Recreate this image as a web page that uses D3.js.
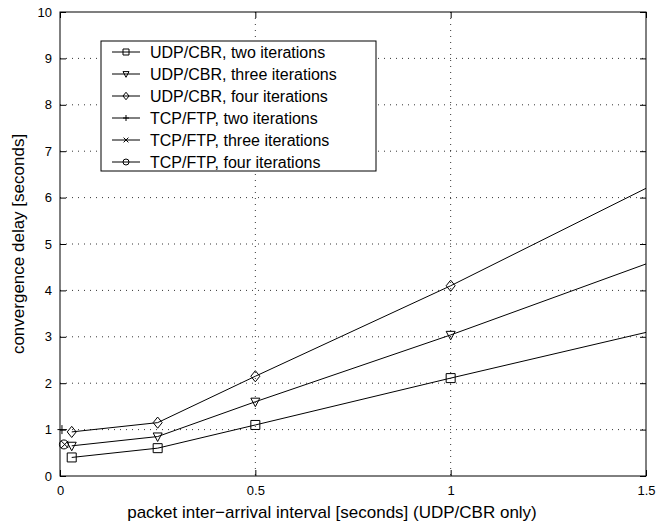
<!DOCTYPE html>
<html><head><meta charset="utf-8">
<script src="https://cdn.jsdelivr.net/npm/d3@7"></script>
<style>body{margin:0;background:#fff}svg{display:block;font-family:"Liberation Sans",Arial,sans-serif}</style>
</head><body><svg id="c" width="667" height="524"></svg>
<script>
const xTicks = [0, 0.5, 1, 1.5];
const yTicks = [0,1,2,3,4,5,6,7,8,9,10];
const udpX = [0.03, 0.25, 0.5, 1, 2];
const udpTwo = [0.40, 0.60, 1.10, 2.11, 4.08];
const udpThree = [0.65, 0.85, 1.60, 3.04, 6.10];
const udpFour = [0.95, 1.15, 2.15, 4.10, 8.30];
const tcpTwoX = [0.005], tcpTwo = [1.0];
const tcpThreeX = [0.012], tcpThree = [0.68];
const tcpFourX = [0.01], tcpFour = [0.68];
const legendLabels = ["UDP/CBR, two iterations","UDP/CBR, three iterations","UDP/CBR, four iterations","TCP/FTP, two iterations","TCP/FTP, three iterations","TCP/FTP, four iterations"];
const xLabel = "packet inter\u2212arrival interval [seconds] (UDP/CBR only)";
const yLabel = "convergence delay [seconds]";

const series = [
  {x: udpX, y: udpTwo, m: "square"},
  {x: udpX, y: udpThree, m: "tri"},
  {x: udpX, y: udpFour, m: "diamond"},
  {x: tcpTwoX, y: tcpTwo, m: "plus"},
  {x: tcpThreeX, y: tcpThree, m: "cross"},
  {x: tcpFourX, y: tcpFour, m: "circle"}
];

const L = 60, R = 646, T = 12, B = 476;
const svg = d3.select("#c");
const x = d3.scaleLinear().domain([0, 1.5]).range([L, R]);
const y = d3.scaleLinear().domain([0, 10]).range([B, T]);

// grid
const g = svg.append("g");
g.selectAll(".gx").data(xTicks.filter(t => t > 0 && t < 1.5)).enter().append("line")
  .attr("x1", d => x(d)).attr("x2", d => x(d)).attr("y1", T).attr("y2", B)
  .attr("stroke", "#000").attr("stroke-width", 0.8).attr("stroke-dasharray", "1,5");
g.selectAll(".gy").data(yTicks.filter(t => t > 0 && t < 10)).enter().append("line")
  .attr("y1", d => y(d)).attr("y2", d => y(d)).attr("x1", L).attr("x2", R)
  .attr("stroke", "#000").attr("stroke-width", 0.8).attr("stroke-dasharray", "1,5");

// axes
const ax = svg.append("g").attr("transform", `translate(0,${B})`)
  .call(d3.axisBottom(x).tickValues(xTicks).tickFormat(d3.format("")).tickSizeInner(-6).tickSizeOuter(0).tickPadding(10));
const ay = svg.append("g").attr("transform", `translate(${L},0)`)
  .call(d3.axisLeft(y).tickValues(yTicks).tickFormat(d3.format("")).tickSizeInner(-6).tickSizeOuter(0).tickPadding(8));
const axT = svg.append("g").attr("transform", `translate(0,${T})`)
  .call(d3.axisTop(x).tickValues(xTicks).tickFormat("").tickSizeInner(-6).tickSizeOuter(0));
const ayR = svg.append("g").attr("transform", `translate(${R},0)`)
  .call(d3.axisRight(y).tickValues(yTicks).tickFormat("").tickSizeInner(-6).tickSizeOuter(0));
[ax, ay, axT, ayR].forEach(a => {
  a.select(".domain").remove();
  a.selectAll("line").attr("stroke", "#000");
  a.selectAll("text").attr("fill", "#000").attr("font-size", 13).attr("font-family", "Liberation Sans, Arial, sans-serif");
});
svg.append("rect").attr("x", L).attr("y", T).attr("width", R - L).attr("height", B - T)
  .attr("fill", "none").attr("stroke", "#000").attr("stroke-width", 1);

// clip
svg.append("clipPath").attr("id", "clip").append("rect")
  .attr("x", L).attr("y", T).attr("width", R - L).attr("height", B - T);

function marker(sel, type, s) {
  const p = sel.append("path").attr("fill", "none").attr("stroke", "#000").attr("stroke-width", 1);
  if (type === "square") p.attr("d", `M${-s/2},${-s/2}h${s}v${s}h${-s}Z`);
  else if (type === "tri") p.attr("d", `M${-s/2},${-s/2*0.8}L${s/2},${-s/2*0.8}L0,${s/2*1.1}Z`);
  else if (type === "diamond") p.attr("d", `M0,${-s*0.62}L${s/2},0L0,${s*0.62}L${-s/2},0Z`);
  else if (type === "plus") p.attr("d", `M${-s/2},0H${s/2}M0,${-s/2}V${s/2}`);
  else if (type === "cross") p.attr("d", `M${-s*0.4},${-s*0.4}L${s*0.4},${s*0.4}M${-s*0.4},${s*0.4}L${s*0.4},${-s*0.4}`);
  else if (type === "circle") p.attr("d", d3.arc()({innerRadius: 0, outerRadius: s/2, startAngle: 0, endAngle: 2*Math.PI}));
}

const plot = svg.append("g").attr("clip-path", "url(#clip)");
const line = d3.line().x(d => x(d[0])).y(d => y(d[1]));
series.forEach(s => {
  const pts = s.x.map((v, i) => [v, s.y[i]]);
  plot.append("path").datum(pts).attr("d", line).attr("fill", "none").attr("stroke", "#000").attr("stroke-width", 1);
  pts.forEach(p => {
    const mg = svg.append("g").attr("transform", `translate(${x(p[0])},${y(p[1])})`);
    if (p[0] <= 1.5) marker(mg, s.m, 9);
  });
});

// legend
const lg = svg.append("g");
lg.append("rect").attr("x", 101).attr("y", 41).attr("width", 275).attr("height", 130)
  .attr("fill", "#fff").attr("stroke", "#000").attr("stroke-width", 1);
legendLabels.forEach((lab, i) => {
  const yy = 52 + i * 22;
  lg.append("line").attr("x1", 112).attr("x2", 140).attr("y1", yy).attr("y2", yy).attr("stroke", "#000");
  const mg = lg.append("g").attr("transform", `translate(126,${yy})`);
  marker(mg, series[i].m, 6);
  lg.append("text").attr("x", 150).attr("y", yy + 5.5).attr("font-size", 16).attr("fill", "#000").text(lab);
});

// labels
svg.append("text").attr("x", 332).attr("y", 518).attr("text-anchor", "middle")
  .attr("font-size", 17).attr("fill", "#000").text(xLabel);
svg.append("text").attr("transform", `translate(24,${(T + B) / 2}) rotate(-90)`).attr("text-anchor", "middle")
  .attr("font-size", 17).attr("fill", "#000").text(yLabel);
</script></body></html>
